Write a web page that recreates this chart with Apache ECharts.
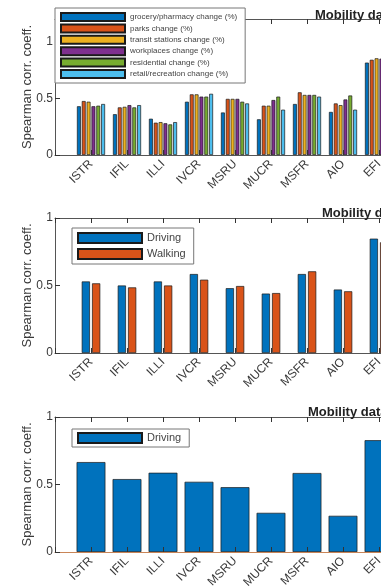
<!DOCTYPE html>
<html>
<head>
<meta charset="utf-8">
<script src="https://cdn.jsdelivr.net/npm/echarts@6/dist/echarts.min.js"></script>
<style>
  html, body { margin: 0; padding: 0; background: #fff; }
  #chart { width: 381px; height: 588px; }
</style>
</head>
<body>
<div id="chart"></div>
<script>
// Regions on the x axis
const categories = ['ISTR', 'IFIL', 'ILLI', 'IVCR', 'MSRU', 'MUCR', 'MSFR', 'AIO', 'EFI'];

// Panel 1: Google mobility categories
const groceryPharmacy = [0.43, 0.36, 0.32, 0.47, 0.375, 0.315, 0.45, 0.38, 0.815];
const parks           = [0.476, 0.42, 0.285, 0.535, 0.495, 0.435, 0.553, 0.455, 0.84];
const transitStations = [0.47, 0.425, 0.29, 0.535, 0.495, 0.435, 0.53, 0.44, 0.853];
const workplaces      = [0.43, 0.44, 0.28, 0.515, 0.495, 0.485, 0.53, 0.49, 0.85];
const residential     = [0.435, 0.42, 0.27, 0.515, 0.47, 0.515, 0.53, 0.525, 0.86];
const retailRecreation= [0.45, 0.44, 0.29, 0.54, 0.455, 0.40, 0.515, 0.40, 0.82];

// Panel 2: driving / walking
const driving2 = [0.53, 0.50, 0.53, 0.585, 0.48, 0.44, 0.585, 0.47, 0.847];
const walking2 = [0.516, 0.486, 0.50, 0.543, 0.496, 0.444, 0.605, 0.457, 0.82];

// Panel 3: driving only
const driving3 = [0.666, 0.54, 0.587, 0.52, 0.48, 0.29, 0.585, 0.268, 0.828];

// y-axis ticks
const yTicks = [0, 0.5, 1];

const FONT = '"Liberation Sans", Arial, Helvetica, sans-serif';
const AXIS_COLOR = '#555';
const TEXT_COLOR = '#3a3a3a';
const colors = ['#0072BD', '#D95319', '#EDB120', '#7E2F8E', '#77AC30', '#4DBEEE'];

// one empty slot at each end so the first and last regions sit a full step in from the box
const axisCats = ['', ...categories, ''];
const pad = arr => [null, ...arr, null];

// the plot boxes run past the right edge of the page
const grids = [
  { left: 55, top: 19, width: 360, height: 136, outerBoundsMode: 'none', containLabel: false },
  { left: 55, top: 218, width: 360, height: 135, outerBoundsMode: 'none', containLabel: false },
  { left: 55, top: 417, width: 360, height: 135, outerBoundsMode: 'none', containLabel: false }
];

const xAxes = [];
const yAxes = [];
grids.forEach((g, i) => {
  xAxes.push({
    type: 'category', gridIndex: i, data: axisCats, boundaryGap: false, position: 'bottom', z: 3,
    axisLine: { onZero: false, lineStyle: { color: i === 2 ? '#c98557' : AXIS_COLOR, width: 1 } },
    axisTick: { inside: true, length: 5, interval: 0, lineStyle: { color: '#333' } },
    axisLabel: { rotate: 45, interval: 0, fontSize: 12, color: TEXT_COLOR, margin: 7, fontFamily: FONT },
    splitLine: { show: false }
  });
  xAxes.push({
    type: 'category', gridIndex: i, data: axisCats, boundaryGap: false, position: 'top', z: 3,
    axisLine: { onZero: false, lineStyle: { color: AXIS_COLOR, width: 1 } },
    axisTick: { inside: true, length: 5, interval: 0, lineStyle: { color: '#333' } },
    axisLabel: { show: false },
    splitLine: { show: false }
  });
  yAxes.push({
    type: 'value', gridIndex: i, min: yTicks[0], max: i === 0 ? 1.2 : yTicks[yTicks.length - 1], interval: 0.5, z: 3,
    axisLine: { show: true, onZero: false, lineStyle: { color: AXIS_COLOR, width: 1 } },
    axisTick: { show: true, inside: true, length: 5, lineStyle: { color: '#333' } },
    axisLabel: { fontSize: 12, color: TEXT_COLOR, margin: 2, fontFamily: FONT, showMaxLabel: i !== 0 },
    splitLine: { show: false },
    name: 'Spearman corr. coeff.', nameLocation: 'middle', nameGap: 21, nameMoveOverlap: false,
    nameTextStyle: { fontSize: 13, color: TEXT_COLOR, fontFamily: FONT }
  });
});

const barEdge = { borderColor: '#1a1a1a', borderWidth: 0.7 };

const panel1 = [
  ['grocery/pharmacy change (%)', groceryPharmacy],
  ['parks change (%)', parks],
  ['transit stations change (%)', transitStations],
  ['workplaces change (%)', workplaces],
  ['residential change (%)', residential],
  ['retail/recreation change (%)', retailRecreation]
];

const series = [];
panel1.forEach(([name, vals], k) => {
  series.push({
    name, type: 'bar', xAxisIndex: 0, yAxisIndex: 0, data: pad(vals),
    barGap: '25%', barCategoryGap: '22%',
    itemStyle: Object.assign({ color: colors[k] }, barEdge)
  });
});
series.push({
  name: 'Driving', type: 'bar', xAxisIndex: 2, yAxisIndex: 1, data: pad(driving2),
  barGap: '25%', barCategoryGap: '48.6%', itemStyle: Object.assign({ color: colors[0] }, barEdge)
});
series.push({
  name: 'Walking', type: 'bar', xAxisIndex: 2, yAxisIndex: 1, data: pad(walking2),
  barGap: '25%', barCategoryGap: '48.6%', itemStyle: Object.assign({ color: colors[1] }, barEdge)
});
series.push({
  name: 'Driving', type: 'bar', xAxisIndex: 4, yAxisIndex: 2, data: pad(driving3),
  barCategoryGap: '20%', itemStyle: Object.assign({ color: colors[0] }, barEdge)
});

const legendBase = {
  orient: 'vertical', icon: 'rect', selectedMode: false,
  backgroundColor: '#fff', borderColor: '#777', borderWidth: 1, z: 10
};

const option = {
  animation: false,
  backgroundColor: '#fff',
  textStyle: { fontFamily: FONT },
  title: [
    { text: 'Mobility data', left: 310, top: 4, textStyle: { fontSize: 13, fontWeight: 'bold', color: '#222', fontFamily: FONT } },
    { text: 'Mobility data', left: 317, top: 202, textStyle: { fontSize: 13, fontWeight: 'bold', color: '#222', fontFamily: FONT } },
    { text: 'Mobility data', left: 303, top: 401, textStyle: { fontSize: 13, fontWeight: 'bold', color: '#222', fontFamily: FONT } }
  ],
  legend: [
    Object.assign({}, legendBase, {
      left: 55, top: 8, data: panel1.map(p => p[0]),
      itemWidth: 64, itemHeight: 8, itemGap: 1.4, padding: [4, 8, 4, 5],
      textStyle: { fontSize: 8, color: '#444', lineHeight: 8, fontFamily: FONT }
    }),
    Object.assign({}, legendBase, {
      left: 72, top: 228, data: ['Driving', 'Walking'],
      itemWidth: 64, itemHeight: 10, itemGap: 4, padding: [4, 8, 4, 5],
      textStyle: { fontSize: 11, color: '#444', lineHeight: 10, fontFamily: FONT }
    }),
    Object.assign({}, legendBase, {
      left: 72, top: 429, data: ['Driving'],
      itemWidth: 64, itemHeight: 10, itemGap: 4, padding: [3, 8, 3, 5],
      textStyle: { fontSize: 11, color: '#444', lineHeight: 10, fontFamily: FONT }
    })
  ],
  grid: grids,
  xAxis: xAxes,
  yAxis: yAxes,
  series
};

const chart = echarts.init(document.getElementById('chart'), null, { renderer: 'canvas' });
chart.setOption(option);
</script>
</body>
</html>
